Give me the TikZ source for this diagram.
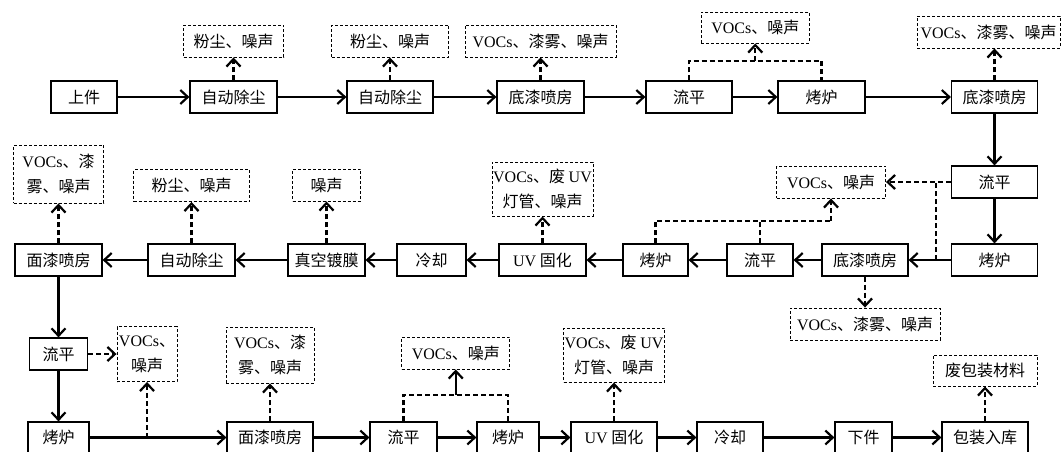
\documentclass[tikz,border=0pt]{standalone}
\usepackage{fontspec}
\setmainfont{Liberation Serif}
\newfontfamily\cjk{Noto Sans CJK SC}
\usetikzlibrary{arrows.meta}
\begin{document}
\begin{tikzpicture}[x=1pt,y=-1pt,
  box/.style={draw, line width=1.2pt, minimum height=32pt, inner sep=0pt, align=center,
    font=\cjk\fontsize{16}{25}\selectfont},
  emi/.style={box, line width=0.9pt, dash pattern=on 3pt off 2pt},
  arr/.style={line width=2.2pt, -{Straight Barb[length=7.5pt,width=14pt]}},
  darr/.style={arr, dash pattern=on 5pt off 3pt},
  dline/.style={line width=2.2pt, dash pattern=on 5pt off 3pt}]
\useasboundingbox (0,0) rectangle (1064,451);
\clip (0,0) rectangle (1064,451);
% ---------- row 1
\node[box, minimum width=66pt] (s1) at (84,97) {上件};
\node[box, minimum width=87pt] (a1) at (233.5,97) {自动除尘};
\node[box, minimum width=86pt] (a2) at (390,97) {自动除尘};
\node[box, minimum width=87pt] (b1) at (540.5,97) {底漆喷房};
\node[box, minimum width=86pt] (l1) at (689,97) {流平};
\node[box, minimum width=87pt] (k1) at (821.5,97) {烤炉};
\node[box, minimum width=86pt] (b2) at (994.5,97) {底漆喷房};
\node[emi, minimum width=100pt] (e1) at (233.5,41) {粉尘、噪声};
\node[emi, minimum width=117pt] (e2) at (390,41) {粉尘、噪声};
\node[emi, minimum width=151pt] (e3) at (540.5,41) {\textrm{VOCs}、漆雾、噪声};
\node[emi, minimum width=108pt, minimum height=31pt] (e4) at (755.25,27.5) {\textrm{VOCs}、噪声};
\node[emi, minimum width=143pt] (e5) at (988.5,32) {\textrm{VOCs}、漆雾、噪声};
% ---------- row 2
\node[box, minimum width=86pt] (l2) at (994.5,182) {流平};
\node[box, minimum width=86pt] (k2) at (994.5,260) {烤炉};
\node[box, minimum width=86pt] (b3) at (865,260) {底漆喷房};
\node[box, minimum width=66pt] (l3) at (760,260) {流平};
\node[box, minimum width=65pt] (k3) at (655.5,260) {烤炉};
\node[box, minimum width=87pt] (u1) at (542.5,260) {\textrm{UV} 固化};
\node[box, minimum width=69pt] (c1) at (431.5,260) {冷却};
\node[box, minimum width=77pt] (v1) at (326.5,260) {真空镀膜};
\node[box, minimum width=87pt] (a3) at (191.5,260) {自动除尘};
\node[box, minimum width=87pt] (m1) at (58.5,260) {面漆喷房};
\node[emi, minimum width=109pt] (e6) at (831,182) {\textrm{VOCs}、噪声};
\node[emi, minimum width=150pt] (e7) at (865,324) {\textrm{VOCs}、漆雾、噪声};
\node[emi, minimum width=101pt, minimum height=54pt] (e8) at (542.5,189) {\textrm{VOCs}、废 \textrm{UV}\\灯管、噪声};
\node[emi, minimum width=68pt] (e9) at (326.5,185) {噪声};
\node[emi, minimum width=116pt] (e10) at (191.5,185.5) {粉尘、噪声};
\node[emi, minimum width=90pt, minimum height=58pt] (e11) at (58.5,174) {\textrm{VOCs}、漆\\雾、噪声};
% ---------- row 3
\node[box, minimum width=58pt] (l4) at (58.5,354) {流平};
\node[box, minimum width=61pt, minimum height=31pt] (k4) at (58.5,437.5) {烤炉};
\node[emi, minimum width=60pt, minimum height=55pt] (e12) at (147,354) {\textrm{VOCs}、\\噪声};
\node[box, minimum width=86pt, minimum height=31pt] (m2) at (270,437.5) {面漆喷房};
\node[emi, minimum width=88pt, minimum height=56pt] (e13) at (270,355) {\textrm{VOCs}、漆\\雾、噪声};
\node[box, minimum width=67pt, minimum height=31pt] (l5) at (403.5,437.5) {流平};
\node[box, minimum width=62pt, minimum height=31pt] (k5) at (508,437.5) {烤炉};
\node[box, minimum width=86pt, minimum height=31pt] (u2) at (614,437.5) {\textrm{UV} 固化};
\node[box, minimum width=66pt, minimum height=31pt] (c2) at (730,437.5) {冷却};
\node[box, minimum width=57pt, minimum height=31pt] (x1) at (863.5,437.5) {下件};
\node[box, minimum width=86pt, minimum height=31pt] (p1) at (985,437.5) {包装入库};
\node[emi, minimum width=108pt] (e14) at (455.75,353) {\textrm{VOCs}、噪声};
\node[emi, minimum width=101pt, minimum height=54pt] (e15) at (614,355) {\textrm{VOCs}、废 \textrm{UV}\\灯管、噪声};
\node[emi, minimum width=104pt, minimum height=31pt] (e16) at (985,370.5) {废包装材料};
% ---------- junctions
\coordinate (j4) at (755.25,61);
\coordinate (j1) at (936,260);
\coordinate (j2) at (936,182);
\coordinate (j3) at (831,221);
\coordinate (j5) at (147,437.5);
\coordinate (j6) at (455.75,395);
% ---------- main flow
\draw[arr] (s1) -- (a1);
\draw[arr] (a1) -- (a2);
\draw[arr] (a2) -- (b1);
\draw[arr] (b1) -- (l1);
\draw[arr] (l1) -- (k1);
\draw[arr] (k1) -- (b2);
\draw[arr] (b2) -- (l2);
\draw[arr] (l2) -- (k2);
\draw[arr] (k2) -- (b3);
\draw[arr] (b3) -- (l3);
\draw[arr] (l3) -- (k3);
\draw[arr] (k3) -- (u1);
\draw[arr] (u1) -- (c1);
\draw[arr] (c1) -- (v1);
\draw[arr] (v1) -- (a3);
\draw[arr] (a3) -- (m1);
\draw[arr] (m1) -- (l4);
\draw[arr] (l4) -- (k4);
\draw[arr] (k4) -- (m2);
\draw[arr] (m2) -- (l5);
\draw[arr] (l5) -- (k5);
\draw[arr] (k5) -- (u2);
\draw[arr] (u2) -- (c2);
\draw[arr] (c2) -- (x1);
\draw[arr] (x1) -- (p1);
% ---------- emissions
\draw[darr] (a1) -- (e1);
\draw[darr] (a2) -- (e2);
\draw[darr] (b1) -- (e3);
\draw[dline] (l1.north) |- (j4) -| (k1.north);
\draw[darr] (j4) -- (e4);
\draw[darr] (b2) -- (e5.south -| b2);
\draw[darr] (l2) -- (e6);
\draw[dline] (j1) -- (j2);
\draw[dline] (k3.north) |- (j3);
\draw[dline] (l3.north) -- (l3.north |- j3);
\draw[darr] (j3) -- (e6);
\draw[darr] (b3) -- (e7);
\draw[darr] (u1) -- (e8);
\draw[darr] (v1) -- (e9);
\draw[darr] (a3) -- (e10);
\draw[darr] (m1) -- (e11);
\draw[darr] (l4) -- (e12);
\draw[darr] (j5) -- (e12);
\draw[darr] (m2) -- (e13);
\draw[dline] (l5.north) |- (j6) -| (k5.north);
\draw[arr] (j6) -- (e14);
\draw[darr] (u2) -- (e15);
\draw[darr] (p1) -- (e16);
\end{tikzpicture}
\end{document}
